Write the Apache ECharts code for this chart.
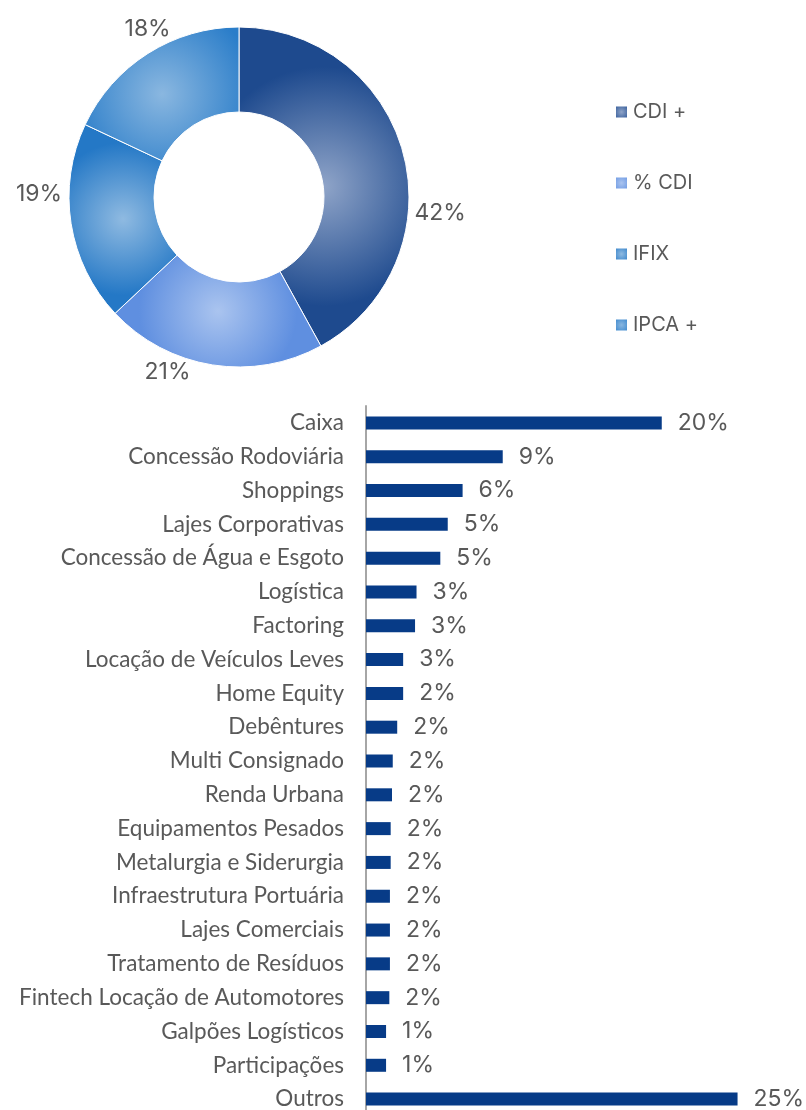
<!DOCTYPE html>
<html>
<head>
<meta charset="utf-8">
<script src="https://cdn.jsdelivr.net/npm/echarts@6/dist/echarts.min.js"></script>
<style>
  html, body { margin: 0; padding: 0; background: #fff; }
  #chart { width: 806px; height: 1110px; }
</style>
</head>
<body>
<div id="chart"></div>
<script>
// donut: indexadores
const pieNames = ['CDI +', '% CDI', 'IFIX', 'IPCA +'];
const pieValues = [42, 21, 19, 18];

// barras: setores
const sectors = [
  'Caixa', 'Concessão Rodoviária', 'Shoppings', 'Lajes Corporativas',
  'Concessão de Água e Esgoto', 'Logística', 'Factoring',
  'Locação de Veículos Leves', 'Home Equity', 'Debêntures',
  'Multi Consignado', 'Renda Urbana', 'Equipamentos Pesados',
  'Metalurgia e Siderurgia', 'Infraestrutura Portuária', 'Lajes Comerciais',
  'Tratamento de Resíduos', 'Fintech Locação de Automotores',
  'Galpões Logísticos', 'Participações', 'Outros'
];
const sectorValues = [19.9, 9.2, 6.5, 5.5, 5.0, 3.4, 3.3, 2.5, 2.5, 2.1,
  1.8, 1.75, 1.66, 1.66, 1.61, 1.61, 1.61, 1.57, 1.35, 1.35, 25];
const sectorLabels = ['20%', '9%', '6%', '5%', '5%', '3%', '3%', '3%', '2%', '2%',
  '2%', '2%', '2%', '2%', '2%', '2%', '2%', '2%', '1%', '1%', '25%'];

// gradientes (centro claro, borda escura)
const pieColors = [
  ['#8FA4C8', '#1E4A8E'],
  ['#AAC4EF', '#5F8FE0'],
  ['#8FBAE1', '#2478C6'],
  ['#8AB7E0', '#2A7DC9']
];
// ajuste fino dos rótulos do donut (como no Excel)
const pieLabelShift = [[0, 60], [-16, 1], [2, -30], [31, -19]];

function radial(c) {
  return new echarts.graphic.RadialGradient(0.5, 0.5, 0.7, [
    { offset: 0, color: c[0] },
    { offset: 1, color: c[1] }
  ]);
}

const chart = echarts.init(document.getElementById('chart'));
chart.setOption({
  backgroundColor: '#fff',
  animation: false,
  legend: {
    orient: 'vertical',
    left: 609,
    top: 97,
    icon: 'rect',
    itemWidth: 13,
    itemHeight: 13,
    itemGap: 51,
    textStyle: { color: '#595959', fontSize: 20, fontFamily: 'Inter', lineHeight: 20 },
    data: pieNames
  },
  grid: { left: 366, right: 9, top: 406, height: 710, outerBoundsMode: 'none', containLabel: false },
  xAxis: { type: 'value', min: 0, max: 29, show: false },
  yAxis: {
    type: 'category',
    inverse: true,
    data: sectors,
    axisLine: { lineStyle: { color: '#A6A6A6', width: 2 } },
    axisTick: { show: false },
    axisLabel: { color: '#595959', fontSize: 22.5, fontFamily: 'Lato', margin: 22 }
  },
  series: [
    {
      type: 'pie',
      center: [239, 197],
      radius: [85, 170],
      startAngle: 90,
      clockwise: true,
      silent: true,
      itemStyle: { borderColor: '#fff', borderWidth: 1 },
      label: {
        show: true,
        position: 'outside',
        formatter: '{c}%',
        color: '#595959',
        fontSize: 23,
        fontFamily: 'Inter'
      },
      labelLine: { show: false, length: 6, length2: 0 },
      labelLayout: p => ({ dx: pieLabelShift[p.dataIndex][0], dy: pieLabelShift[p.dataIndex][1] }),
      data: pieNames.map((n, i) => ({
        name: n,
        value: pieValues[i],
        itemStyle: { color: radial(pieColors[i]) }
      }))
    },
    {
      type: 'bar',
      data: sectorValues,
      barWidth: 13,
      itemStyle: { color: '#073B87' },
      label: {
        show: true,
        position: 'right',
        distance: 16,
        formatter: p => sectorLabels[p.dataIndex],
        color: '#595959',
        fontSize: 23,
        fontFamily: 'Inter'
      }
    }
  ]
});
</script>
</body>
</html>
